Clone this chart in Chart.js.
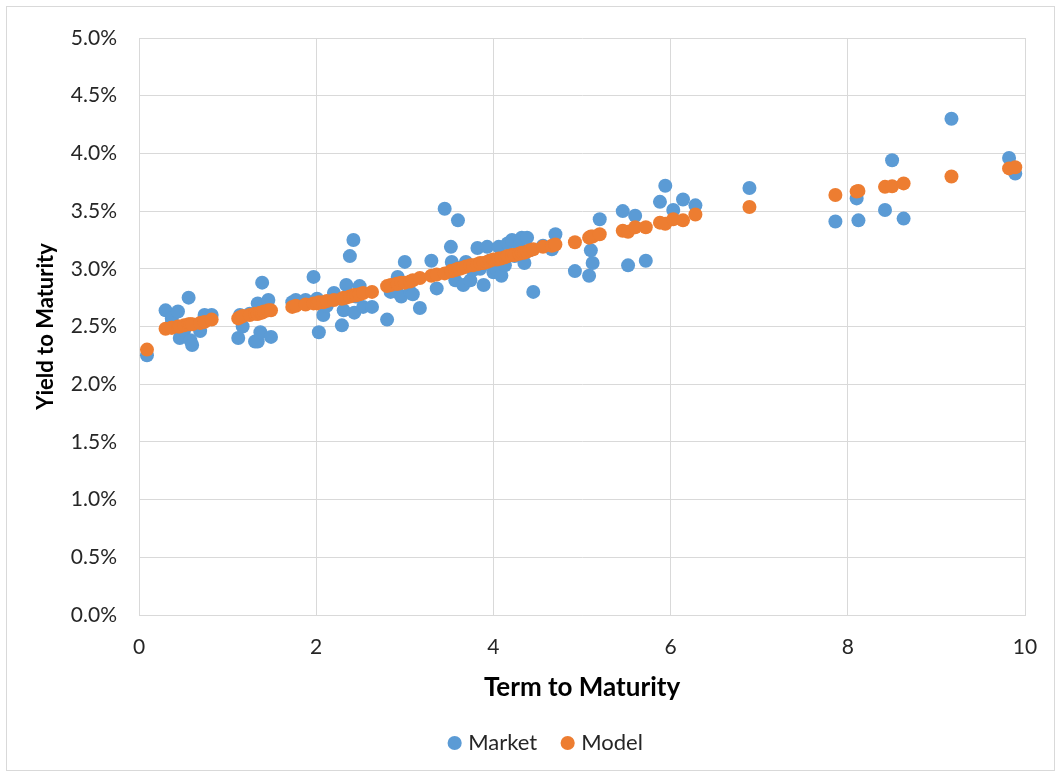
<!DOCTYPE html>
<html>
<head>
<meta charset="utf-8">
<script src="https://cdn.jsdelivr.net/npm/chart.js@4/dist/chart.umd.min.js"></script>
<style>
  html, body { margin: 0; padding: 0; background: #ffffff; }
  #wrap { position: absolute; left: 0; top: 0; width: 1061px; height: 777px; }
</style>
</head>
<body>
<div id="wrap"><canvas id="c" width="1061" height="777"></canvas></div>
<script>
// Term to maturity (years), shared by both series
const terms = [
  0.09, 0.30, 0.37, 0.37, 0.44, 0.46, 0.51, 0.56, 0.58, 0.60, 0.69, 0.74, 0.82,
  1.12, 1.14, 1.17, 1.25, 1.31, 1.34, 1.34, 1.37, 1.39, 1.41, 1.46, 1.49,
  1.73, 1.77, 1.88, 1.97, 2.01, 2.03, 2.08, 2.12, 2.20, 2.29, 2.31, 2.34, 2.38, 2.42, 2.43, 2.45, 2.49, 2.53, 2.63,
  2.80, 2.84, 2.91, 2.92, 2.96, 3.00, 3.06, 3.09, 3.17, 3.30, 3.36, 3.45, 3.52, 3.53, 3.57, 3.60, 3.62, 3.66, 3.69, 3.74,
  3.77, 3.82, 3.85, 3.89, 3.93, 3.96, 4.00, 4.04, 4.06, 4.09, 4.13, 4.16, 4.21, 4.24, 4.29, 4.32, 4.35, 4.38, 4.41, 4.45,
  4.56, 4.66, 4.70, 4.92, 5.08, 5.10, 5.12, 5.20, 5.46, 5.52, 5.60, 5.72, 5.88, 5.94, 6.03, 6.14, 6.28,
  6.89, 7.86, 8.10, 8.12, 8.42, 8.50, 8.63, 9.17, 9.82, 9.89
];

// Market yield to maturity (%)
const marketYield = [
  2.25, 2.64, 2.57, 2.53, 2.63, 2.40, 2.47, 2.75, 2.38, 2.34, 2.46, 2.60, 2.60,
  2.40, 2.60, 2.50, 2.61, 2.37, 2.70, 2.37, 2.45, 2.88, 2.68, 2.73, 2.41,
  2.71, 2.73, 2.73, 2.93, 2.74, 2.45, 2.60, 2.68, 2.79, 2.51, 2.64, 2.86, 3.11, 3.25, 2.62, 2.76, 2.85, 2.67, 2.67,
  2.56, 2.80, 2.80, 2.93, 2.76, 3.06, 2.80, 2.78, 2.66, 3.07, 2.83, 3.52, 3.19, 3.06, 2.90, 3.42, 3.01, 2.86, 3.06, 2.90,
  2.99, 3.18, 3.00, 2.86, 3.19, 3.07, 2.97, 2.99, 3.19, 2.94, 3.03, 3.22, 3.25, 3.11, 3.20, 3.27, 3.05, 3.27, 3.16, 2.80,
  3.20, 3.17, 3.30, 2.98, 2.94, 3.16, 3.05, 3.43, 3.50, 3.03, 3.46, 3.07, 3.58, 3.72, 3.51, 3.60, 3.55,
  3.70, 3.41, 3.61, 3.42, 3.51, 3.94, 3.435, 4.30, 3.96, 3.825
];

// Model yield to maturity (%)
const modelYield = [
  2.30, 2.48, 2.49, 2.49, 2.50, 2.50, 2.51, 2.52, 2.52, 2.52, 2.53, 2.54, 2.56,
  2.57, 2.58, 2.59, 2.60, 2.61, 2.61, 2.61, 2.62, 2.62, 2.63, 2.64, 2.64,
  2.67, 2.68, 2.69, 2.70, 2.70, 2.71, 2.71, 2.72, 2.73, 2.74, 2.75, 2.75, 2.76, 2.77, 2.77, 2.77, 2.78, 2.79, 2.80,
  2.85, 2.86, 2.87, 2.87, 2.88, 2.88, 2.89, 2.90, 2.92, 2.94, 2.95, 2.96, 2.98, 2.98, 2.99, 3.00, 3.00, 3.01, 3.02, 3.03,
  3.03, 3.04, 3.05, 3.05, 3.06, 3.07, 3.08, 3.08, 3.09, 3.09, 3.10, 3.11, 3.12, 3.12, 3.13, 3.14, 3.14, 3.15, 3.16, 3.17,
  3.19, 3.20, 3.21, 3.23, 3.27, 3.28, 3.28, 3.30, 3.33, 3.32, 3.36, 3.36, 3.40, 3.39, 3.43, 3.42, 3.47,
  3.535, 3.64, 3.67, 3.675, 3.71, 3.715, 3.74, 3.80, 3.87, 3.88
];

const xTicks = [0, 2, 4, 6, 8, 10];
const yTicks = [0.0, 0.5, 1.0, 1.5, 2.0, 2.5, 3.0, 3.5, 4.0, 4.5, 5.0];

const seriesNames = ['Market', 'Model'];
const seriesColors = ['#5B9BD5', '#ED7D31'];

const FONT = "Lato, 'Open Sans', 'DejaVu Sans', sans-serif";
const GRID = '#d9d9d9';

const toPoints = (xs, ys) => xs.map((x, i) => ({ x: x, y: ys[i] }));

const borderPlugin = {
  id: 'outerBorder',
  beforeDraw(chart) {
    const ctx = chart.ctx;
    ctx.save();
    ctx.fillStyle = '#ffffff';
    ctx.fillRect(0, 0, chart.width, chart.height);
    ctx.strokeStyle = GRID;
    ctx.lineWidth = 1;
    ctx.strokeRect(6.5, 6.5, chart.width - 13, chart.height - 13);
    ctx.restore();
  }
};

// nudge the legend block horizontally (the reference legend sits a bit right of centre)
const legendShift = {
  id: 'legendShift',
  afterLayout(chart) {
    if (chart.legend) {
      chart.legend.left += 35;
      chart.legend.right += 35;
    }
  }
};

new Chart(document.getElementById('c'), {
  type: 'scatter',
  data: {
    datasets: [
      {
        label: seriesNames[0],
        data: toPoints(terms, marketYield),
        backgroundColor: seriesColors[0],
        borderColor: seriesColors[0],
        borderWidth: 0,
        pointRadius: 7,
        pointHoverRadius: 7,
        order: 2
      },
      {
        label: seriesNames[1],
        data: toPoints(terms, modelYield),
        backgroundColor: seriesColors[1],
        borderColor: seriesColors[1],
        borderWidth: 0,
        pointRadius: 7,
        pointHoverRadius: 7,
        order: 1
      }
    ]
  },
  options: {
    responsive: false,
    animation: false,
    devicePixelRatio: 1,
    layout: { padding: { left: 0, right: 36, top: 38, bottom: 13 } },
    plugins: {
      tooltip: { enabled: false },
      legend: {
        position: 'bottom',
        labels: {
          usePointStyle: true,
          pointStyle: 'circle',
          boxWidth: 5,
          boxHeight: 10,
          padding: 28,
          color: '#262626',
          font: { family: FONT, size: 22 },
          sort: (a, b) => a.datasetIndex - b.datasetIndex
        }
      }
    },
    scales: {
      x: {
        type: 'linear',
        min: xTicks[0],
        max: xTicks[xTicks.length - 1],
        afterBuildTicks: (s) => { s.ticks = xTicks.map(v => ({ value: v })); },
        afterFit: (s) => { s.height = 89; },
        grid: { color: GRID, lineWidth: 1, drawTicks: false },
        border: { color: GRID, width: 1 },
        ticks: {
          color: '#262626',
          padding: 20,
          font: { family: FONT, size: 21 },
          maxRotation: 0
        },
        title: {
          display: true,
          text: 'Term to Maturity',
          color: '#000000',
          font: { family: FONT, size: 26, weight: 'bold' },
          padding: { top: 0, bottom: 1 }
        }
      },
      y: {
        type: 'linear',
        min: yTicks[0],
        max: yTicks[yTicks.length - 1],
        afterBuildTicks: (s) => { s.ticks = yTicks.map(v => ({ value: v })); },
        afterFit: (s) => { s.width = 139; },
        grid: { color: GRID, lineWidth: 1, drawTicks: false },
        border: { color: GRID, width: 1 },
        ticks: {
          color: '#262626',
          padding: 22,
          font: { family: FONT, size: 21 },
          callback: (v) => Number(v).toFixed(1) + '%'
        },
        title: {
          display: true,
          text: 'Yield to Maturity',
          color: '#000000',
          font: { family: FONT, size: 22, weight: 'bold' },
          padding: { top: 33, bottom: 0 }
        }
      }
    }
  },
  plugins: [borderPlugin, legendShift]
});
</script>
</body>
</html>
